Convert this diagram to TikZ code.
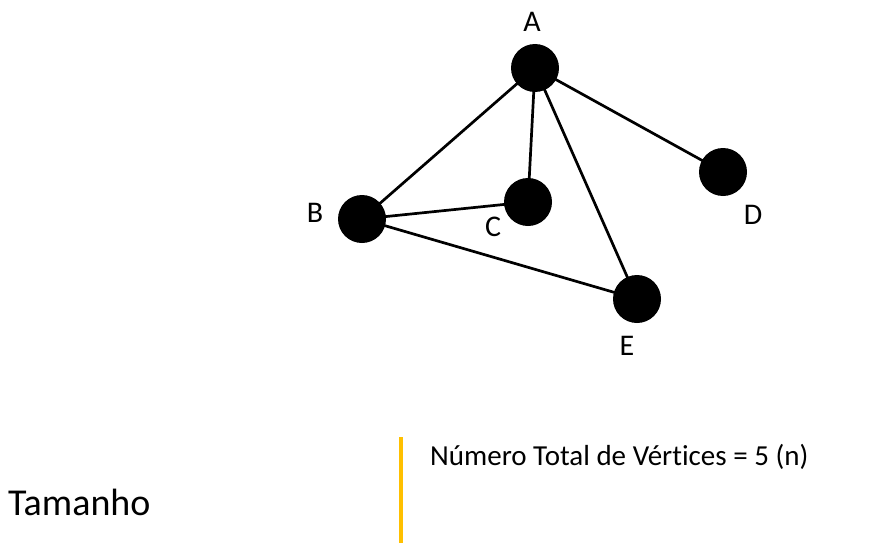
\documentclass[tikz,border=0pt]{standalone}
\usepackage{fontspec}
\setmainfont{Carlito}[Ligatures=NoCommon]
\usetikzlibrary{backgrounds}
\definecolor{gold}{HTML}{FFC000}
\begin{document}
\begin{tikzpicture}[x=1pt,y=-1pt,
  vert/.style={circle,fill=black,minimum size=48pt,inner sep=0pt},
  lbl/.style={font=\fontsize{30}{34}\selectfont,inner sep=0pt},
  edge/.style={line width=2.7pt}]
\useasboundingbox (0,0) rectangle (882,543);
\node[vert] (A) at (535,68) {};
\node[vert] (B) at (362,219) {};
\node[vert] (C) at (528,202) {};
\node[vert] (D) at (723,172) {};
\node[vert] (E) at (637,299) {};
\node[lbl] (lA) at (532,22) {A};
\node[lbl] (lB) at (315,213) {B};
\node[lbl] (lC) at (493,227) {C};
\node[lbl] (lD) at (753,215) {D};
\node[lbl] (lE) at (627,346) {E};
\begin{pgfonlayer}{background}
\draw[edge] (A.center) -- (B.center);
\draw[edge] (A.center) -- (C.center);
\draw[edge] (A.center) -- (E.center);
\draw[edge] (A.center) -- (D.center);
\draw[edge] (B.center) -- (C.center);
\draw[edge] (B.center) -- (E.center);
\end{pgfonlayer}
\coordinate (g1) at (401,437);
\coordinate (g2) at (401,543);
\draw[gold,line width=4pt] (g1) -- (g2);
\node[anchor=west,inner sep=0pt,font=\fontsize{29}{33}\selectfont] (t1) at (430,457) {Número Total de Vértices = 5 (n)};
\node[anchor=west,inner sep=0pt,font=\fontsize{38}{42}\selectfont] (t2) at (8,502) {Tamanho};
\end{tikzpicture}
\end{document}
